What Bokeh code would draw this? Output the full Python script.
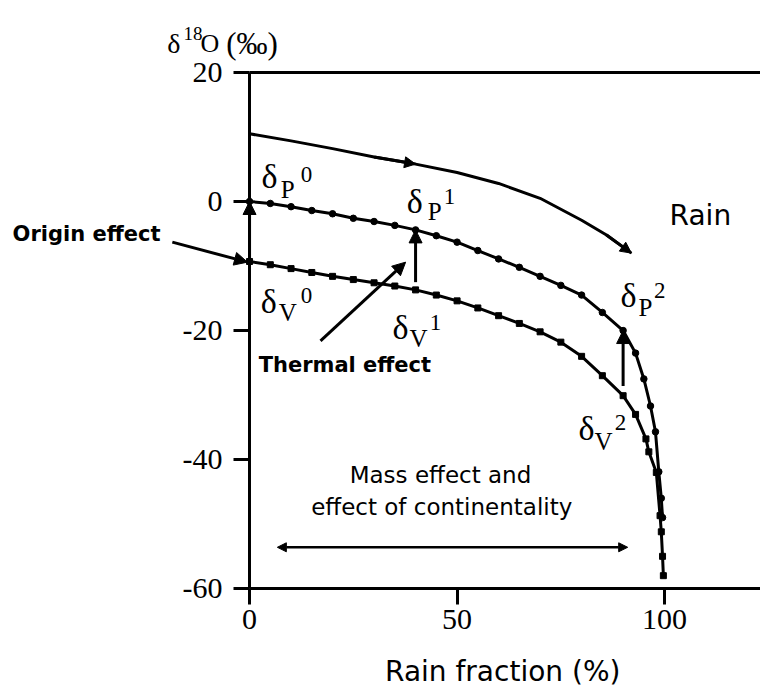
from bokeh.plotting import figure
from bokeh.models import Range1d, FixedTicker, Arrow, NormalHead, Label, LinearAxis
from bokeh.embed import file_html
from bokeh.resources import INLINE

# ---- data ----
rain_x = [0, 10, 20, 30, 40, 50, 60, 70, 80, 86, 92]
rain_y = [10.5, 9.4, 8.2, 6.9, 5.8, 4.5, 2.8, 0.5, -2.9, -5.2, -8.0]

dp_x = [0, 5, 10, 15, 20, 25, 30, 35, 40, 45, 50, 55, 60, 65, 70, 75, 80, 85, 90,
        93, 95, 96.6, 97.8, 98.6, 99.2, 99.5]
dp_y = [0, -0.3, -0.8, -1.4, -1.9, -2.6, -3.1, -3.7, -4.4, -5.3, -6.3, -7.6, -8.9,
        -10.2, -11.6, -13.0, -14.5, -17.2, -20.0, -23.5, -27.5, -31.7, -35.7, -41.9,
        -46.0, -49.0]

dv_x = [0, 5, 10, 15, 20, 25, 30, 35, 40, 45, 50, 55, 60, 65, 70, 75, 80, 85, 90,
        93, 95.5, 96.2, 98, 98.9, 99.2, 99.5, 99.7]
dv_y = [-9.3, -9.8, -10.4, -11.0, -11.6, -12.1, -12.6, -13.1, -13.7, -14.5, -15.4,
        -16.5, -17.7, -18.9, -20.2, -21.8, -24.0, -27.0, -30.1, -33.0, -36.8, -38.8,
        -42.0, -48.7, -51.2, -55.0, -58.0]

x_ticks = [0, 50, 100]
y_ticks = [-60, -40, -20, 0, 20]

SERIF = "Liberation Serif"
SANS = "DejaVu Sans"

X_MAX = 123.1
Y_TOP = 20
Y_BOT = -60

# frame covers the whole canvas; the axes sit at fixed locations inside it
p = figure(width=760, height=690, output_backend="svg", toolbar_location=None,
           x_range=Range1d(-60.0, X_MAX), y_range=Range1d(-75.8, 31.16),
           min_border_left=0, min_border_top=0, min_border_bottom=0,
           min_border_right=0)
p.outline_line_color = None
p.grid.visible = False
p.background_fill_color = "white"
p.border_fill_color = "white"

p.xaxis.fixed_location = Y_BOT
p.yaxis.fixed_location = 0
p.xaxis.bounds = (0, X_MAX)
p.yaxis.bounds = (Y_BOT, Y_TOP)

for ax in (p.xaxis[0], p.yaxis[0]):
    ax.axis_line_width = 3
    ax.axis_line_color = "black"
    ax.major_tick_line_width = 3
    ax.major_tick_line_color = "black"
    ax.major_tick_out = 16
    ax.major_tick_in = 0
    ax.minor_tick_out = 0
    ax.minor_tick_in = 0
    ax.major_label_text_font = SERIF
    ax.major_label_text_font_size = "30px"
    ax.major_label_text_color = "black"
p.xaxis.major_label_standoff = 5
p.yaxis.major_label_standoff = 11

p.xaxis.ticker = FixedTicker(ticks=x_ticks)
p.yaxis.ticker = FixedTicker(ticks=y_ticks)
p.yaxis.major_label_overrides = {t: str(t) for t in y_ticks}

# top frame line (an unlabeled axis at y = 20)
top = LinearAxis(fixed_location=Y_TOP, bounds=(0, X_MAX), axis_line_width=3,
                 axis_line_color="black", major_tick_out=0, major_tick_in=0,
                 minor_tick_out=0, minor_tick_in=0,
                 major_label_text_font_size="0px", ticker=FixedTicker(ticks=[]))
p.add_layout(top, "above")

# curves
p.line(rain_x, rain_y, line_width=3, line_color="black")
p.line(dp_x, dp_y, line_width=3, line_color="black")
p.scatter(dp_x, dp_y, marker="circle", size=6.5, fill_color="black", line_color="black")
p.line(dv_x, dv_y, line_width=3, line_color="black")
p.scatter(dv_x, dv_y, marker="square", size=6, fill_color="black", line_color="black")


def arrow(x0, y0, x1, y1, size=13, lw=3, both=False):
    head = NormalHead(size=size, fill_color="black", line_color="black", line_width=1)
    kw = {}
    if both:
        kw["start"] = NormalHead(size=size, fill_color="black", line_color="black",
                                 line_width=1)
    p.add_layout(Arrow(end=head, x_start=x0, y_start=y0, x_end=x1, y_end=y1,
                       line_width=lw, line_color="black", **kw))


# arrows on rain curve
arrow(rain_x[3], rain_y[3], rain_x[4], rain_y[4], size=11)
arrow(rain_x[9], rain_y[9], rain_x[10], rain_y[10], size=11)
# thermal (vertical) arrows
arrow(dv_x[0], dv_y[0], dp_x[0], dp_y[0])
arrow(dv_x[8], dv_y[8] + 1.2, dp_x[8], dp_y[8])
arrow(dv_x[18], dv_y[18] + 1.5, dp_x[18], dp_y[18])
# origin effect arrow
arrow(-18.6, -6.3, -0.5, -9.4)
# thermal effect arrow
arrow(17.1, -21.6, 37.6, -9.4)
# mass effect double arrow
arrow(6.7, -53.6, 91.1, -53.6, size=9, lw=2.5, both=True)


def label(x, y, text, font=SANS, size="22px", align="left", baseline="middle",
          style="normal"):
    p.add_layout(Label(x=x, y=y, text=text, text_font=font, text_font_size=size,
                       text_align=align, text_baseline=baseline,
                       text_font_style=style, text_color="black"))


def delta(pos_d, pos_sub, pos_sup, sub, sup):
    label(pos_d[0], pos_d[1], "δ", font=SERIF, size="34px", align="center")
    label(pos_sub[0], pos_sub[1], sub, font=SERIF, size="25px", align="center")
    label(pos_sup[0], pos_sup[1], sup, font=SERIF, size="23px", align="center")


delta((4.8, 3.9), (9.2, 1.9), (13.7, 4.2), "P", "0")
delta((39.8, 0.0), (44.6, -1.5), (48.2, 0.8), "P", "1")
delta((91.3, -14.5), (95.4, -16.4), (98.8, -13.8), "P", "2")
delta((4.6, -15.5), (9.2, -17.2), (13.7, -14.5), "V", "0")
delta((36.4, -19.6), (40.7, -21.2), (44.8, -18.7), "V", "1")
delta((81.2, -35.2), (85.3, -37.2), (89.4, -34.3), "V", "2")

# y-axis title
label(-19.8, 24.5, "δ", font=SERIF, size="28px", baseline="alphabetic")
label(-15.9, 26.1, "18", font=SERIF, size="19px", baseline="alphabetic")
label(-11.8, 24.5, "O", font=SERIF, size="26px", baseline="alphabetic")
label(-5.6, 24.5, "(‰)", font=SERIF, size="31px", baseline="alphabetic")

label(101.2, -2.2, "Rain", size="28px")
label(-57.1, -5.0, "Origin effect", size="21px", style="bold")
label(2.2, -25.4, "Thermal effect", size="21px", style="bold")
label(46.0, -42.4, "Mass effect and", size="23px", align="center")
label(46.3, -47.3, "effect of continentality", size="23px", align="center")
label(61.0, -72.9, "Rain fraction (%)", size="28px", align="center")

open("out.html", "w").write(file_html(p, INLINE))
